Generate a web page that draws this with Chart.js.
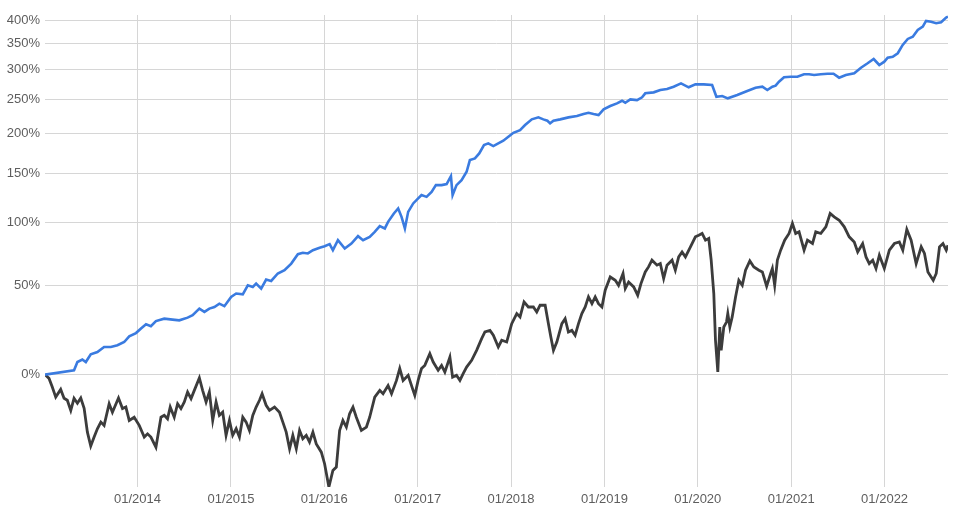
<!DOCTYPE html>
<html>
<head>
<meta charset="utf-8">
<script src="https://cdn.jsdelivr.net/npm/chart.js@4"></script>
<style>
  html, body { margin: 0; padding: 0; background: #fff; }
  #wrap { width: 969px; height: 528px; }
</style>
</head>
<body>
<div id="wrap"><canvas id="perfChart"></canvas></div>
<script>
// dates as fractional years
const strategyDates = [2013.009, 2013.320, 2013.356, 2013.409, 2013.446, 2013.499, 2013.570, 2013.642, 2013.714, 2013.785,
  2013.857, 2013.911, 2013.983, 2014.037, 2014.091, 2014.143, 2014.197, 2014.286, 2014.375, 2014.447,
  2014.536, 2014.590, 2014.662, 2014.716, 2014.769, 2014.823, 2014.876, 2014.930, 2015.002, 2015.056,
  2015.127, 2015.181, 2015.234, 2015.270, 2015.324, 2015.377, 2015.431, 2015.502, 2015.574, 2015.646,
  2015.717, 2015.770, 2015.824, 2015.878, 2015.950, 2016.003, 2016.057, 2016.092, 2016.146, 2016.219,
  2016.290, 2016.361, 2016.415, 2016.486, 2016.540, 2016.594, 2016.648, 2016.683, 2016.745, 2016.791,
  2016.827, 2016.863, 2016.898, 2016.952, 2017.005, 2017.041, 2017.095, 2017.149, 2017.195, 2017.256,
  2017.310, 2017.356, 2017.374, 2017.416, 2017.470, 2017.524, 2017.559, 2017.613, 2017.659, 2017.710,
  2017.756, 2017.810, 2017.863, 2017.917, 2017.971, 2018.025, 2018.096, 2018.150, 2018.222, 2018.293,
  2018.346, 2018.389, 2018.418, 2018.454, 2018.526, 2018.615, 2018.705, 2018.776, 2018.829, 2018.883,
  2018.937, 2018.991, 2019.062, 2019.134, 2019.188, 2019.223, 2019.277, 2019.349, 2019.403, 2019.437,
  2019.527, 2019.598, 2019.670, 2019.741, 2019.820, 2019.902, 2019.974, 2020.063, 2020.153, 2020.199,
  2020.261, 2020.321, 2020.422, 2020.529, 2020.618, 2020.691, 2020.744, 2020.798, 2020.833, 2020.869,
  2020.923, 2020.994, 2021.066, 2021.137, 2021.191, 2021.245, 2021.317, 2021.389, 2021.453, 2021.513,
  2021.585, 2021.675, 2021.747, 2021.818, 2021.883, 2021.943, 2021.997, 2022.033, 2022.087, 2022.141,
  2022.194, 2022.248, 2022.302, 2022.355, 2022.409, 2022.444, 2022.498, 2022.552, 2022.605, 2022.659,
  2022.679];
// cumulative return in %
const strategyReturns = [0, 2.0, 5.9, 7.1, 5.9, 9.7, 10.8, 13.4, 13.4, 14.3,
  16.0, 19.0, 20.8, 23.3, 25.7, 24.6, 27.6, 29.0, 28.4, 28.0,
  29.6, 31.0, 35.0, 33.0, 35.0, 36.0, 38.1, 36.5, 42.4, 44.6,
  44.1, 50.1, 49.0, 51.3, 47.9, 54.1, 53.1, 58.4, 60.8, 65.7,
  72.9, 74.0, 73.5, 76.1, 78.1, 79.3, 81.0, 76.1, 84.3, 77.4,
  81.5, 87.7, 84.3, 87.1, 91.4, 96.4, 94.4, 100.3, 108.1, 112.9,
  104.9, 94.4, 109.6, 117.8, 122.8, 126.2, 124.4, 129.6, 136.7, 136.7,
  137.8, 146.6, 126.2, 136.7, 142.2, 151.5, 165.2, 167.3, 173.4, 184.0,
  186.2, 182.7, 186.2, 189.6, 194.9, 200.3, 204.0, 211.0, 219.2, 222.1,
  219.2, 217.2, 213.4, 217.2, 219.2, 222.1, 224.0, 227.0, 228.9, 227.0,
  225.5, 234.1, 239.1, 243.3, 247.4, 244.3, 249.6, 248.5, 252.8, 259.3,
  260.9, 264.7, 266.4, 270.3, 276.0, 269.3, 274.3, 274.3, 273.1, 253.8,
  254.9, 251.2, 256.5, 263.1, 268.6, 270.3, 264.7, 270.3, 272.0, 278.8,
  286.5, 287.5, 287.5, 291.8, 291.8, 290.5, 291.8, 292.8, 292.8, 285.8,
  290.5, 293.5, 303.7, 311.9, 320.0, 308.7, 314.9, 322.5, 324.4, 331.1,
  347.7, 360.1, 364.9, 379.3, 386.6, 399.3, 397.7, 394.1, 396.4, 406.9,
  409.2];

const benchmarkDates = [2013.009, 2013.052, 2013.087, 2013.124, 2013.177, 2013.213, 2013.248, 2013.285, 2013.320, 2013.356,
  2013.392, 2013.428, 2013.463, 2013.499, 2013.535, 2013.570, 2013.607, 2013.642, 2013.696, 2013.731,
  2013.796, 2013.839, 2013.875, 2013.911, 2013.964, 2014.018, 2014.072, 2014.107, 2014.143, 2014.197,
  2014.251, 2014.286, 2014.321, 2014.350, 2014.393, 2014.429, 2014.465, 2014.501, 2014.536, 2014.573,
  2014.608, 2014.662, 2014.697, 2014.734, 2014.769, 2014.805, 2014.841, 2014.876, 2014.912, 2014.948,
  2014.984, 2015.019, 2015.056, 2015.091, 2015.127, 2015.163, 2015.198, 2015.234, 2015.270, 2015.306,
  2015.334, 2015.377, 2015.413, 2015.467, 2015.520, 2015.556, 2015.592, 2015.628, 2015.663, 2015.700,
  2015.735, 2015.770, 2015.807, 2015.842, 2015.878, 2015.914, 2015.968, 2016.003, 2016.049, 2016.092,
  2016.129, 2016.164, 2016.199, 2016.236, 2016.271, 2016.307, 2016.343, 2016.397, 2016.451, 2016.486,
  2016.540, 2016.594, 2016.629, 2016.683, 2016.720, 2016.773, 2016.808, 2016.844, 2016.898, 2016.951,
  2016.969, 2017.005, 2017.041, 2017.076, 2017.130, 2017.166, 2017.219, 2017.256, 2017.291, 2017.345,
  2017.374, 2017.416, 2017.452, 2017.487, 2017.524, 2017.578, 2017.631, 2017.685, 2017.720, 2017.774,
  2017.810, 2017.863, 2017.900, 2017.953, 2018.007, 2018.061, 2018.096, 2018.139, 2018.185, 2018.239,
  2018.275, 2018.311, 2018.365, 2018.400, 2018.426, 2018.454, 2018.490, 2018.544, 2018.579, 2018.614,
  2018.651, 2018.686, 2018.722, 2018.758, 2018.794, 2018.829, 2018.866, 2018.901, 2018.936, 2018.973,
  2019.008, 2019.062, 2019.116, 2019.151, 2019.199, 2019.223, 2019.259, 2019.313, 2019.356, 2019.391,
  2019.437, 2019.472, 2019.509, 2019.563, 2019.598, 2019.634, 2019.670, 2019.724, 2019.759, 2019.795,
  2019.831, 2019.867, 2019.921, 2019.974, 2020.010, 2020.046, 2020.082, 2020.117, 2020.143, 2020.171,
  2020.189, 2020.214, 2020.235, 2020.250, 2020.278, 2020.307, 2020.321, 2020.343, 2020.368, 2020.404,
  2020.439, 2020.476, 2020.511, 2020.557, 2020.600, 2020.654, 2020.691, 2020.737, 2020.780, 2020.798,
  2020.823, 2020.852, 2020.887, 2020.930, 2020.977, 2021.013, 2021.048, 2021.084, 2021.138, 2021.174,
  2021.228, 2021.263, 2021.317, 2021.371, 2021.417, 2021.460, 2021.514, 2021.568, 2021.621, 2021.675,
  2021.712, 2021.765, 2021.801, 2021.836, 2021.873, 2021.908, 2021.944, 2021.997, 2022.051, 2022.105,
  2022.158, 2022.195, 2022.238, 2022.284, 2022.338, 2022.392, 2022.427, 2022.464, 2022.521, 2022.553,
  2022.588, 2022.625, 2022.660, 2022.679];
const benchmarkReturns = [0, -1.7, -5.5, -9.7, -6.5, -10.2, -11.0, -15.0, -10.2, -12.2,
  -10.1, -14.2, -23.0, -27.7, -24.7, -21.8, -19.4, -20.6, -12.4, -15.7,
  -10.1, -14.3, -13.7, -18.8, -17.6, -20.6, -24.7, -23.6, -24.7, -28.1,
  -17.6, -16.9, -18.2, -13.7, -17.6, -12.4, -14.3, -11.7, -7.6, -10.3,
  -6.9, -1.5, -6.9, -11.7, -7.6, -18.8, -11.7, -16.9, -15.7, -24.1,
  -18.8, -24.1, -21.8, -24.7, -17.6, -19.4, -22.4, -16.9, -13.7, -11.0,
  -8.3, -13.0, -15.0, -13.7, -15.7, -19.4, -23.0, -28.6, -24.1, -28.6,
  -22.4, -25.3, -24.1, -26.4, -23.0, -27.0, -29.7, -33.3, -40.0, -35.3,
  -34.3, -22.4, -18.8, -21.2, -16.3, -13.7, -17.6, -22.4, -21.2, -17.6,
  -9.7, -6.9, -8.3, -4.8, -8.3, -2.6, 2.8, -2.6, -0.3, -6.9,
  -9.0, -2.6, 2.8, 4.3, 10.0, 5.9, 2.0, 4.3, 1.2, 8.3,
  -1.1, -0.3, -2.6, 0.5, 3.5, 6.7, 11.7, 17.8, 21.4, 22.3,
  19.6, 13.4, 16.9, 16.0, 26.1, 32.0, 30.0, 39.2, 36.0, 36.0,
  33.0, 37.1, 37.1, 26.1, 18.7, 11.7, 16.0, 26.1, 29.0, 21.4,
  22.3, 19.6, 26.1, 32.0, 36.0, 42.4, 38.1, 42.4, 38.1, 36.0,
  46.8, 55.9, 53.6, 50.1, 58.4, 47.9, 52.4, 49.0, 43.5, 51.3,
  59.5, 63.2, 68.3, 64.5, 65.7, 54.8, 64.5, 68.3, 60.8, 70.8,
  74.7, 70.8, 78.8, 87.1, 88.5, 90.0, 84.3, 85.7, 68.3, 44.6,
  16.9, 1.2, 24.2, 11.7, 24.2, 27.0, 32.0, 24.2, 30.0, 42.4,
  53.6, 50.1, 60.8, 67.7, 63.2, 60.8, 59.5, 49.5, 58.4, 62.0,
  50.1, 68.3, 76.1, 84.3, 90.0, 98.8, 90.0, 91.4, 76.1, 84.3,
  81.5, 91.4, 90.0, 95.8, 108.1, 104.9, 101.8, 95.8, 87.1, 82.8,
  74.7, 81.5, 70.8, 65.7, 68.3, 62.0, 72.1, 62.0, 76.1, 81.5,
  82.8, 76.1, 93.5, 84.3, 65.7, 78.8, 73.5, 59.5, 53.6, 58.4,
  78.8, 81.5, 76.1, 80.1];

const yTickPercents = [0, 50, 100, 150, 200, 250, 300, 350, 400];
const xTickYears = [2014, 2015, 2016, 2017, 2018, 2019, 2020, 2021, 2022];

// log scale works on growth factor (1 + r)
const toPoints = (dates, rets) => dates.map((d, i) => ({ x: d, y: 1 + rets[i] / 100 }));

const labelFont = { family: "'Liberation Sans', Arial, sans-serif", size: 13 };
const labelColor = '#5e5e5e';
const gridColor = '#d6d6d6';

new Chart(document.getElementById('perfChart'), {
    type: 'line',
    data: {
        datasets: [{
            label: 'Strategy',
            data: toPoints(strategyDates, strategyReturns),
            borderColor: '#3a7be0',
            borderWidth: 2.6,
            pointRadius: 0,
            tension: 0
        }, {
            label: 'Benchmark',
            data: toPoints(benchmarkDates, benchmarkReturns),
            borderColor: '#3c3c3c',
            borderWidth: 2.8,
            pointRadius: 0,
            tension: 0
        }]
    },
    options: {
        responsive: true,
        maintainAspectRatio: false,
        animation: false,
        layout: { padding: { top: 15, right: 21, left: 0, bottom: 0 } },
        plugins: {
            legend: { display: false },
            tooltip: { enabled: false }
        },
        scales: {
            x: {
                type: 'linear',
                min: 2013.009,
                max: 2022.679,
                afterBuildTicks: (scale) => {
                    scale.ticks = xTickYears.map(v => ({ value: v }));
                },
                afterFit: (scale) => { scale.height = 41; },
                ticks: {
                    callback: (v) => '01/' + v,
                    color: labelColor,
                    font: labelFont,
                    padding: 5,
                    maxRotation: 0,
                    autoSkip: false
                },
                grid: { color: gridColor, drawTicks: false },
                border: { display: false }
            },
            y: {
                type: 'logarithmic',
                min: 0.6,
                max: 5.13,
                afterBuildTicks: (scale) => {
                    scale.ticks = yTickPercents.map(p => ({ value: 1 + p / 100 }));
                },
                afterFit: (scale) => { scale.width = 45; },
                ticks: {
                    callback: (v) => Math.round((v - 1) * 100) + '%',
                    color: labelColor,
                    font: labelFont,
                    padding: 5,
                    autoSkip: false
                },
                grid: { color: gridColor, drawTicks: false },
                border: { display: false }
            }
        }
    }
});
</script>
</body>
</html>
